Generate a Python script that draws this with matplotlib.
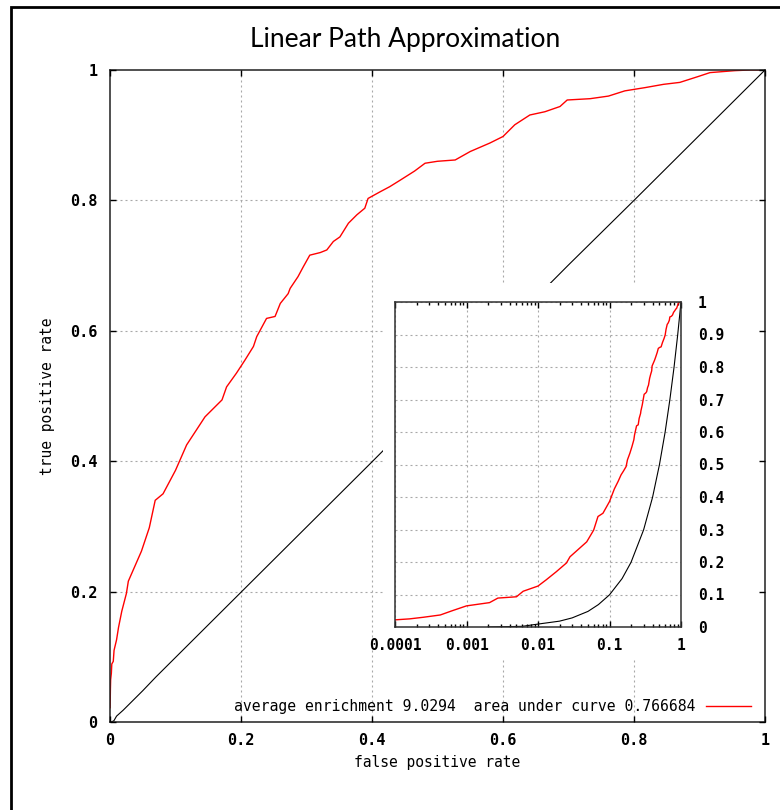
import matplotlib
matplotlib.use("Agg")
import matplotlib.pyplot as plt
from matplotlib.patches import Rectangle

# ROC curve of the ranking (false positive rate vs true positive rate)
fpr = [1e-4, 1.6e-4, 2.5e-4, 4.3e-4, 6.3e-4, 1e-3, 2.1e-3, 2.75e-3, 5e-3, 6.2e-3,
       0.01, 0.013, 0.018, 0.025, 0.028, 0.048, 0.060, 0.069, 0.081, 0.1,
       0.117, 0.132, 0.145, 0.158, 0.171, 0.178, 0.193, 0.206, 0.219, 0.224,
       0.239, 0.252, 0.260, 0.272, 0.275, 0.287, 0.295, 0.305, 0.321, 0.331,
       0.341, 0.351, 0.364, 0.377, 0.389, 0.394, 0.412, 0.427, 0.443, 0.465,
       0.481, 0.500, 0.527, 0.550, 0.580, 0.600, 0.618, 0.641, 0.664, 0.687,
       0.698, 0.733, 0.761, 0.786, 0.817, 0.845, 0.870, 0.898, 0.916, 0.954,
       0.977, 1.0]
tpr = [0.022, 0.025, 0.030, 0.037, 0.050, 0.065, 0.075, 0.089, 0.093, 0.110,
       0.126, 0.145, 0.170, 0.197, 0.216, 0.262, 0.298, 0.340, 0.350, 0.386,
       0.425, 0.448, 0.468, 0.481, 0.494, 0.514, 0.535, 0.555, 0.576, 0.591,
       0.619, 0.622, 0.642, 0.657, 0.665, 0.683, 0.698, 0.716, 0.720, 0.724,
       0.737, 0.744, 0.765, 0.778, 0.788, 0.803, 0.813, 0.821, 0.831, 0.845,
       0.857, 0.860, 0.862, 0.875, 0.888, 0.898, 0.916, 0.931, 0.936, 0.944,
       0.954, 0.956, 0.960, 0.968, 0.973, 0.978, 0.981, 0.990, 0.996, 0.999,
       1.0, 1.0]

# random-ranking reference curve
fpr_rand = [0.0, 0.002, 0.006, 0.01, 0.02, 0.03, 0.05, 0.07, 0.1, 0.15, 0.2,
            0.3, 0.4, 0.5, 0.6, 0.7, 0.8, 0.9, 1.0]
tpr_rand = [0.0, 0.0, 0.002, 0.009, 0.018, 0.028, 0.048, 0.069, 0.099, 0.149,
            0.199, 0.299, 0.399, 0.5, 0.6, 0.701, 0.8, 0.9, 1.0]

legend_label = "average enrichment 9.0294  area under curve 0.766684"
title_text = "Linear Path Approximation"
x_label = "false positive rate"
y_label = "true positive rate"

main_ticks = [0, 0.2, 0.4, 0.6, 0.8, 1]
main_tick_labels = ["0", "0.2", "0.4", "0.6", "0.8", "1"]
inset_xticks = [1e-4, 1e-3, 1e-2, 1e-1, 1]
inset_xtick_labels = ["0.0001", "0.001", "0.01", "0.1", "1"]
inset_yticks = [0, 0.1, 0.2, 0.3, 0.4, 0.5, 0.6, 0.7, 0.8, 0.9, 1]
inset_ytick_labels = ["0", "0.1", "0.2", "0.3", "0.4", "0.5", "0.6", "0.7",
                      "0.8", "0.9", "1"]

W, H = 780, 810
mono = "DejaVu Sans Mono"
grid_kw = dict(color="#a8a8a8", lw=0.8, dashes=(1.8, 2.7))

fig = plt.figure(figsize=(W / 100, H / 100), dpi=100)
fig.patch.set_facecolor("white")

# frame around the whole figure
fig.add_artist(Rectangle((10.8 / W, -0.1), 1.2, 1 - 7.3 / H + 0.1,
                         transform=fig.transFigure, fill=False,
                         edgecolor="black", lw=2.0))

fig.text(405 / W, 1 - 40 / H, title_text, ha="center", va="center",
         fontsize=19, family="Lato")

# ---- main ROC panel ----
ax = fig.add_axes([110 / W, 1 - 722 / H, 655 / W, 652 / H])
ax.set_xlim(0, 1)
ax.set_ylim(0, 1)
ax.set_axisbelow(False)
for v in main_ticks[1:-1]:
    ax.axvline(v, zorder=0.5, **grid_kw)
    ax.axhline(v, zorder=0.5, **grid_kw)

ax.plot(fpr_rand, tpr_rand, color="black", lw=0.8, zorder=1)
ax.plot(fpr, tpr, color="#ff0000", lw=1.0, zorder=1.1, label=legend_label)

# white backing behind the inset panel
ax.add_patch(Rectangle((383 / W, 1 - 660 / H), (770 - 383) / W, (660 - 283) / H,
                       transform=fig.transFigure, facecolor="white",
                       edgecolor="none", zorder=1.5))

ax.set_xticks(main_ticks)
ax.set_xticklabels(main_tick_labels)
ax.set_yticks(main_ticks)
ax.set_yticklabels(main_tick_labels)
ax.tick_params(direction="in", length=4.3, width=1.0, top=True, right=True,
               labelsize=11, pad=8)
ax.tick_params(axis="y", pad=9)
for lab in ax.get_xticklabels() + ax.get_yticklabels():
    lab.set_fontfamily(mono)
    lab.set_fontweight("bold")
for s in ax.spines.values():
    s.set_linewidth(1.1)
    s.set_color("#202020")

ax.set_xlabel(x_label, family=mono, fontsize=10.5, va="center")
ax.set_ylabel(y_label, family=mono, fontsize=10.5, va="center")
ax.xaxis.set_label_coords(0.5, (722 - 763) / 652)
ax.yaxis.set_label_coords((48 - 110) / 655, 0.5)

leg = ax.legend(loc="center right",
                bbox_to_anchor=((751 - 110) / 655, (722 - 707) / 652),
                frameon=False, markerfirst=False, handlelength=3.05,
                handletextpad=0.7, borderpad=0, borderaxespad=0,
                prop=dict(family=mono, size=10.6))

# ---- inset: early part of the curve on a log scale ----
ax2 = fig.add_axes([395 / W, 1 - 627 / H, 286 / W, 325 / H])
ax2.set_xscale("log", nonpositive="mask")
ax2.set_xlim(1e-4, 1)
ax2.set_ylim(0, 1)
ax2.plot(fpr_rand, tpr_rand, color="black", lw=0.8)
ax2.plot(fpr, tpr, color="#ff0000", lw=1.0)
ax2.set_xticks(inset_xticks)
ax2.set_xticklabels(inset_xtick_labels)
ax2.set_yticks(inset_yticks)
ax2.set_yticklabels(inset_ytick_labels)
ax2.grid(True, which="major", axis="both", linestyle=(0, (1.8, 2.7)),
         color="#a8a8a8", lw=0.8)
ax2.yaxis.tick_right()
ax2.tick_params(axis="x", which="major", direction="in", length=4.3,
                width=1.0, top=True, bottom=True, labelsize=10.5, pad=8)
ax2.tick_params(axis="x", which="minor", direction="in", length=2.2,
                width=1.0, top=True, bottom=True)
ax2.tick_params(axis="y", which="both", length=0, labelsize=10.5, pad=12,
                left=False, right=False)
for lab in ax2.get_xticklabels() + ax2.get_yticklabels():
    lab.set_fontfamily(mono)
    lab.set_fontweight("bold")
for s in ax2.spines.values():
    s.set_linewidth(1.1)
    s.set_color("#303030")

fig.savefig("out.png", dpi=100)
